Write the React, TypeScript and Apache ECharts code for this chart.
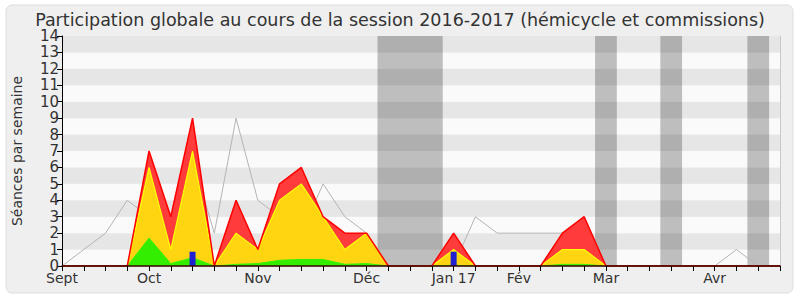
import React, { useEffect, useRef } from "react";
import * as echarts from "echarts";

// Week index 0..33 (Sept 2016 -> Apr 2017)
const weeks: string[] = Array.from({ length: 34 }, (_, i) => String(i));
const monthWeeks = [0, 4, 9, 14, 18, 21, 25, 30];
const monthLabels = ["Sept", "Oct", "Nov", "Déc", "Jan 17", "Fév", "Mar", "Avr"];

// Stacked areas (own values per layer)
const greenValues = [0, 0, 0, 0, 1.7, 0.15, 0.5, 0, 0.1, 0.15, 0.35, 0.4, 0.4, 0.1, 0.15, 0, 0, 0, 0.05, 0, 0, 0, 0, 0.1, 0.1, 0, 0, 0, 0, 0, 0, 0, 0, 0];
const yellowValues = [0, 0, 0, 0, 4.3, 0.85, 6.5, 0, 1.9, 0.85, 3.65, 4.6, 2.6, 0.9, 1.85, 0, 0, 0, 0.95, 0, 0, 0, 0, 0.9, 0.9, 0, 0, 0, 0, 0, 0, 0, 0, 0];
const redValues = [0, 0, 0, 0, 1, 2, 2, 0, 2, 0, 1, 1, 0, 1, 0, 0, 0, 0, 1, 0, 0, 0, 0, 1, 2, 0, 0, 0, 0, 0, 0, 0, 0, 0];
// Median line (gray)
const grayValues = [0, 1, 2, 4, 3, 2, 6.5, 2, 9, 4, 3, 2, 5, 3, 2, 0, 0, 0, 0, 3, 2, 2, 2, 2, 2, 0, 0, 0, 0, 0, 0, 1, 0, 0];
// Blue bars
const blueWeeks = [6, 18];
const blueValues = [0.87, 0.87];
// Vacation periods (week ranges)
const vacationStarts = [14.5, 24.5, 27.5, 31.5];
const vacationEnds = [17.5, 25.5, 28.5, 32.5];

const FONT = "DejaVu Sans";

export default function App() {
  const ref = useRef<HTMLDivElement>(null);
  useEffect(() => {
    document.body.style.margin = "0";
    const chart = echarts.init(ref.current!, null, { renderer: "svg" });
    const areaSeries = (name: string, vals: number[], fill: string, line: string, lw: number) => ({
      name,
      type: "line",
      stack: "total",
      xAxisIndex: 0,
      data: vals,
      showSymbol: false,
      symbol: "none",
      lineStyle: { color: line, width: lw },
      itemStyle: { color: fill },
      areaStyle: { color: fill, opacity: 1 },
      z: 3,
    });
    chart.setOption({
      animation: false,
      backgroundColor: "#ffffff",
      graphic: [
        {
          type: "rect",
          z: -10,
          silent: true,
          shape: { x: 6, y: 5, width: 787, height: 288, r: 6 },
          style: { fill: "#efefef", stroke: "#dedede", lineWidth: 1 },
        },
      ],
      title: {
        text: "Participation globale au cours de la session 2016-2017 (hémicycle et commissions)",
        left: "center",
        top: 6,
        textStyle: { fontFamily: FONT, fontSize: 17.5, fontWeight: "normal", color: "#333333" },
      },
      grid: { left: 62, right: 20, top: 36, bottom: 34, containLabel: false },
      xAxis: [
        {
          type: "category",
          data: weeks,
          boundaryGap: false,
          z: 10,
          axisLine: { show: true, lineStyle: { color: "#3a0000", width: 1.5 } },
          axisTick: { show: true, length: 5, interval: 0, lineStyle: { color: "#000" } },
          splitLine: { show: false },
          axisLabel: {
            interval: 0,
            fontFamily: FONT,
            fontSize: 14,
            color: "#333333",
            margin: 5,
            formatter: (_v: string, idx: number) => {
              const k = monthWeeks.indexOf(idx);
              return k >= 0 ? monthLabels[k] : "";
            },
          },
        },
        {
          type: "value",
          position: "top",
          min: 0,
          max: 33,
          interval: 1,
          axisLine: { show: true, lineStyle: { color: "#e0e0e0", width: 1 } },
          axisTick: { show: true, inside: true, length: 2, lineStyle: { color: "#000" } },
          axisLabel: { show: false },
          splitLine: { show: false },
        },
      ],
      yAxis: [
        {
          type: "value",
          min: 0,
          max: 14,
          interval: 1,
          name: "Séances par semaine",
          nameLocation: "middle",
          nameGap: 38,
          nameTextStyle: { fontFamily: FONT, fontSize: 14, color: "#333333" },
          axisLine: { show: true, lineStyle: { color: "#000" } },
          axisTick: { show: true, length: 5, lineStyle: { color: "#000" } },
          axisLabel: { fontFamily: FONT, fontSize: 15, color: "#333333", margin: 3 },
          splitLine: { show: false },
          splitArea: { show: true, areaStyle: { color: ["#fafafa", "#e6e6e6"] } },
        },
        {
          type: "value",
          position: "right",
          min: 0,
          max: 14,
          interval: 1,
          axisLine: { show: true, lineStyle: { color: "#c8c8c8" } },
          axisTick: { show: false },
          axisLabel: { show: false },
          splitLine: { show: false },
        },
      ],
      series: [
        {
          name: "mediane",
          type: "line",
          xAxisIndex: 1,
          data: grayValues.map((v, i) => [i, v]),
          showSymbol: false,
          symbol: "none",
          lineStyle: { color: "#b4b4b4", width: 1 },
          z: 2,
          markArea: {
            silent: true,
            itemStyle: { color: "rgba(0,0,0,0.24)" },
            data: vacationStarts.map((s, i) => [{ xAxis: s }, { xAxis: vacationEnds[i] }]),
          },
        },
        areaSeries("hemicycle", greenValues, "#33ee00", "#33ee00", 1),
        areaSeries("commissions", yellowValues, "#ffd512", "#ffff00", 1.2),
        areaSeries("autres", redValues, "#ff3b3b", "#ff0000", 1.5),
        {
          name: "questions",
          type: "bar",
          xAxisIndex: 1,
          data: blueWeeks.map((w, i) => [w, blueValues[i]]),
          barWidth: 6,
          itemStyle: { color: "#2020d0" },
          z: 5,
        },
      ],
    });
    return () => chart.dispose();
  }, []);
  return <div ref={ref} style={{ width: 800, height: 300 }} />;
}
